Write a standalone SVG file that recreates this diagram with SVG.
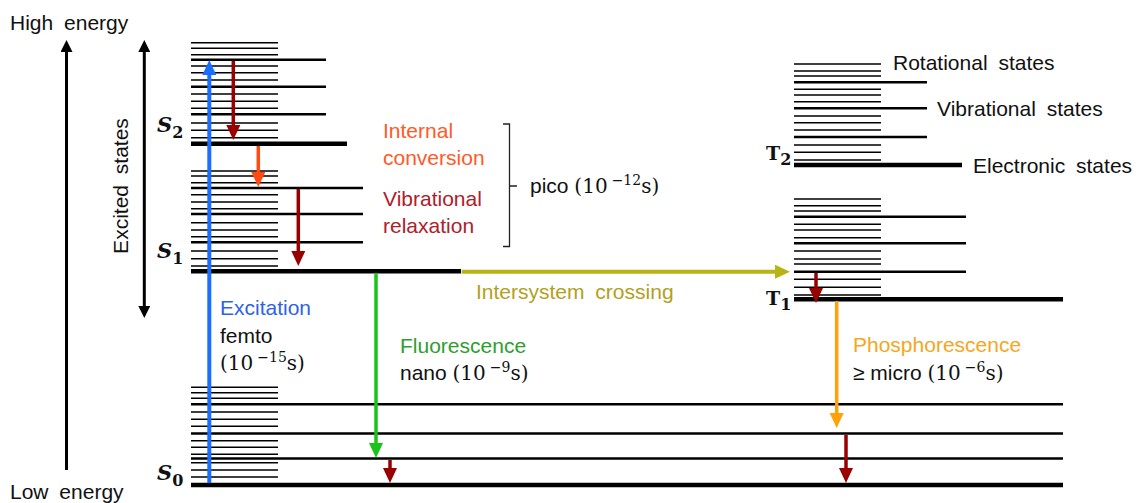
<svg xmlns="http://www.w3.org/2000/svg" width="1139" height="503" viewBox="0 0 1139 503">
<style>
.thin{stroke:#000;stroke-width:1.6;fill:none}
.mid{stroke:#000;stroke-width:2.4;fill:none}
.thick{stroke:#000;stroke-width:4.5;fill:none}
.lbl{font-family:"Liberation Sans",Arial,sans-serif;font-size:21px;fill:#111}
.ws{word-spacing:5px}
.math{font-family:"DejaVu Serif",serif;font-size:20px}
.sup{font-size:14px}
.st{font-family:"DejaVu Serif",serif;font-weight:bold;font-style:italic;font-size:21px;fill:#111}
.tt{font-family:"DejaVu Serif",serif;font-weight:bold;font-size:19px;fill:#111}
.sub{font-size:16px;font-style:normal}
</style>
<defs>
<marker id="hBlue" markerUnits="userSpaceOnUse" markerWidth="15" markerHeight="14" refX="3" refY="7" orient="auto"><path d="M0,0 L15,7 L0,14 z" fill="#1a6eff"/></marker>
<marker id="hDR" markerUnits="userSpaceOnUse" markerWidth="15" markerHeight="14" refX="3" refY="7" orient="auto"><path d="M0,0 L15,7 L0,14 z" fill="#990000"/></marker>
<marker id="hOR" markerUnits="userSpaceOnUse" markerWidth="15" markerHeight="14" refX="3" refY="7" orient="auto"><path d="M0,0 L15,7 L0,14 z" fill="#ff4a14"/></marker>
<marker id="hGR" markerUnits="userSpaceOnUse" markerWidth="15" markerHeight="14" refX="3" refY="7" orient="auto"><path d="M0,0 L15,7 L0,14 z" fill="#19c419"/></marker>
<marker id="hYL" markerUnits="userSpaceOnUse" markerWidth="15" markerHeight="14" refX="3" refY="7" orient="auto"><path d="M0,0 L15,7 L0,14 z" fill="#b9b416"/></marker>
<marker id="hOG" markerUnits="userSpaceOnUse" markerWidth="15" markerHeight="14" refX="3" refY="7" orient="auto"><path d="M0,0 L15,7 L0,14 z" fill="#ffa20a"/></marker>
<marker id="hBK" markerUnits="userSpaceOnUse" markerWidth="12" markerHeight="12" refX="3" refY="6" orient="auto-start-reverse"><path d="M0,0 L12,6 L0,12 z" fill="#000"/></marker>
</defs>
<rect width="1139" height="503" fill="#fff"/>

<g id="energy-axis">
<text class="lbl ws" x="10" y="30">High energy</text>
<text class="lbl ws" x="10" y="499">Low energy</text>
<text class="lbl ws" x="128" y="186" text-anchor="middle" transform="rotate(-90 128 186)">Excited states</text>
</g>

<g id="S2">
<path class="thin" d="M191,42.7H278M191,48.3H278M191,54.7H278M191,66H278M191,72.7H278M191,80H278M191,94H278M191,101.3H278M191,108.3H278M191,123H278M191,130.3H278M191,137.7H278"/>
<path class="mid" d="M191,59.7H326M191,86.7H326M191,114.3H326"/>
<path class="thick" d="M191,143.7H347"/>
<text class="st" x="157" y="132">S<tspan class="sub" dy="6">2</tspan></text>
</g>

<g id="S1">
<path class="thin" d="M191,171H278M191,176H278M191,182.7H278M191,194.7H278M191,202H278M191,208.7H278M191,222.7H278M191,230H278M191,236.7H278M191,251H278M191,258.7H278M191,266H278"/>
<path class="mid" d="M191,188H363M191,214H363M191,242.3H363"/>
<path class="thick" d="M191,271.3H461"/>
<text class="st" x="157" y="258">S<tspan class="sub" dy="6">1</tspan></text>
</g>

<g id="S0">
<path class="thin" d="M191,387.3H278M191,392.7H278M191,398.3H278M191,412H278M191,419.3H278M191,426.3H278M191,440.7H278M191,447.3H278M191,454.3H278M191,462.7H278M191,470H278M191,477H278"/>
<path class="mid" d="M191,404.3H1063M191,433.5H1063M191,458.5H1063"/>
<path class="thick" d="M191,485H1063"/>
<text class="st" x="157" y="480">S<tspan class="sub" dy="6">0</tspan></text>
</g>

<g id="T2">
<path class="thin" d="M794,64H881M794,71H881M794,76H881M794,89.3H881M794,95H881M794,101.7H881M794,116H881M794,122.7H881M794,130H881M794,145H881M794,152.3H881M794,160H881"/>
<path class="mid" d="M794,82.3H927M794,108.3H927M794,137H927"/>
<path class="thick" d="M794,165H962"/>
<text class="tt" x="766" y="160">T<tspan class="sub" dy="5">2</tspan></text>
</g>

<g id="T1">
<path class="thin" d="M794,199H881M794,205.7H881M794,211H881M794,224.3H881M794,230H881M794,237.7H881M794,251H881M794,259H881M794,264H881M794,279.3H881M794,287.3H881M794,295H881"/>
<path class="mid" d="M794,216.7H966M794,243.3H966M794,271.7H966"/>
<path class="thick" d="M794,299.3H1063"/>
<text class="tt" x="766" y="305">T<tspan class="sub" dy="5">1</tspan></text>
</g>

<g id="state-labels">
<text class="lbl ws" x="893" y="70">Rotational states</text>
<text class="lbl ws" x="937" y="116">Vibrational states</text>
<text class="lbl ws" x="973" y="173">Electronic states</text>
</g>

<g id="connectors">
<line x1="66.5" y1="470" x2="66.5" y2="49" stroke="#000" stroke-width="3" marker-end="url(#hBK)"/>
<line x1="144.3" y1="49" x2="144.3" y2="309" stroke="#000" stroke-width="3" marker-start="url(#hBK)" marker-end="url(#hBK)"/>
<line x1="209.3" y1="483" x2="209.3" y2="72" stroke="#1a6eff" stroke-width="4" marker-end="url(#hBlue)"/>
<line x1="233.3" y1="61" x2="233.3" y2="128" stroke="#990000" stroke-width="3.5" marker-end="url(#hDR)"/>
<line x1="258.3" y1="146" x2="258.3" y2="175" stroke="#ff4a14" stroke-width="3.5" marker-end="url(#hOR)"/>
<line x1="298.3" y1="189" x2="298.3" y2="254" stroke="#990000" stroke-width="3.5" marker-end="url(#hDR)"/>
<line x1="376" y1="273" x2="376" y2="446" stroke="#19c419" stroke-width="3.5" marker-end="url(#hGR)"/>
<line x1="390" y1="460" x2="390" y2="471" stroke="#990000" stroke-width="3.5" marker-end="url(#hDR)"/>
<line x1="461.7" y1="271.7" x2="778" y2="271.7" stroke="#b9b416" stroke-width="4" marker-end="url(#hYL)"/>
<line x1="816" y1="273" x2="816" y2="291" stroke="#990000" stroke-width="3.5" marker-end="url(#hDR)"/>
<line x1="836.7" y1="301" x2="836.7" y2="416" stroke="#ffa20a" stroke-width="3.5" marker-end="url(#hOG)"/>
<line x1="846" y1="435" x2="846" y2="471" stroke="#990000" stroke-width="3.5" marker-end="url(#hDR)"/>
<path d="M503,124H509.5V246.5H503M509.5,186H517" stroke="#222" stroke-width="1.3" fill="none"/>
</g>

<g id="process-labels">
<text class="lbl" x="383" y="138" style="fill:#ff5a28">Internal</text>
<text class="lbl" x="383" y="165" style="fill:#ff5a28">conversion</text>
<text class="lbl" x="383" y="206" style="fill:#b0202a">Vibrational</text>
<text class="lbl" x="383" y="233" style="fill:#b0202a">relaxation</text>
<text class="lbl" x="530" y="193">pico <tspan class="math">(10</tspan><tspan class="math sup" dx="4" dy="-8">−12</tspan><tspan class="math" dy="8">s)</tspan></text>
<text class="lbl" x="220" y="315" style="fill:#2f62e8">Excitation</text>
<text class="lbl" x="220" y="343">femto</text>
<text class="lbl" x="220" y="370"><tspan class="math">(10</tspan><tspan class="math sup" dx="4" dy="-8">−15</tspan><tspan class="math" dy="8">s)</tspan></text>
<text class="lbl" x="400" y="353" style="fill:#2e9e2e">Fluorescence</text>
<text class="lbl" x="400" y="380">nano <tspan class="math">(10</tspan><tspan class="math sup" dx="4" dy="-8">−9</tspan><tspan class="math" dy="8">s)</tspan></text>
<text class="lbl ws" x="476" y="299" style="fill:#b3a01e">Intersystem crossing</text>
<text class="lbl" x="853" y="352" style="fill:#f5a623">Phosphorescence</text>
<text class="lbl" x="853" y="380">≥ micro <tspan class="math">(10</tspan><tspan class="math sup" dx="4" dy="-8">−6</tspan><tspan class="math" dy="8">s)</tspan></text>
</g>
</svg>
